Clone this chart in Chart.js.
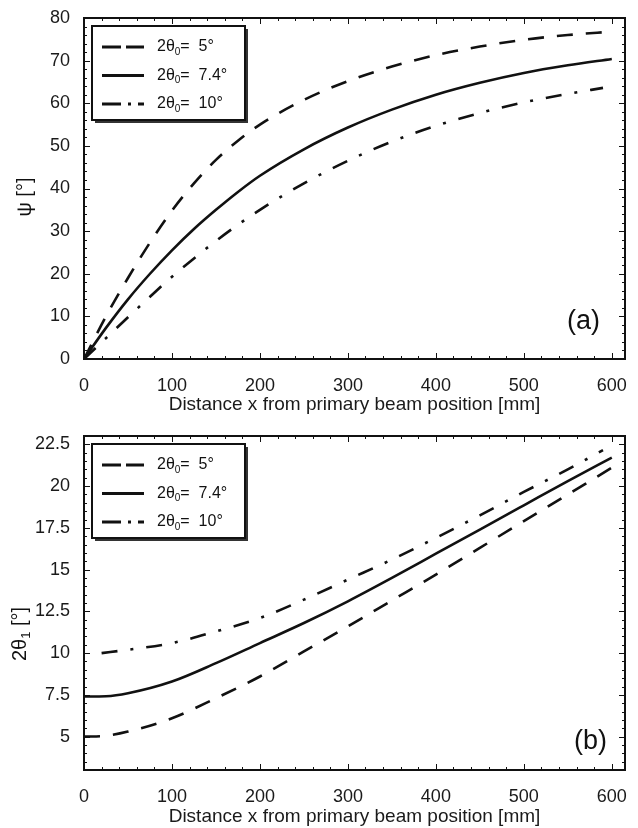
<!DOCTYPE html>
<html>
<head>
<meta charset="utf-8">
<script src="https://cdn.jsdelivr.net/npm/chart.js@4/dist/chart.umd.min.js"></script>
<style>
  body { margin: 0; background: #fff; }
  canvas { display: block; }
</style>
</head>
<body>
<canvas id="canvas1" width="638" height="416"></canvas>
<canvas id="canvas2" width="638" height="412"></canvas>
<script>
// ---- data (a): psi versus distance x
const xA = [0, 25, 50, 75, 100, 125, 150, 175, 200, 250, 300, 350, 400, 450, 500, 550, 600];
const xA10 = [0, 25, 50, 75, 100, 125, 150, 175, 200, 250, 300, 350, 400, 450, 500, 550, 590];
const psi5 = [0, 10, 19, 27.3, 34.8, 41.2, 46.7, 51.2, 55, 60.8, 65.2, 68.6, 71.3, 73.3, 74.9, 76, 76.8];
const psi74 = [0, 7.3, 14, 20, 25.5, 30.5, 35, 39.2, 43, 49.2, 54.3, 58.5, 62, 64.8, 67.1, 68.9, 70.4];
const psi10 = [0, 4.9, 9.8, 14.6, 19.3, 23.6, 27.7, 31.5, 35, 41.2, 46.5, 51, 54.7, 57.7, 60.2, 62.2, 63.6];

// ---- data (b): 2theta1 versus distance x
const xB = [0, 25, 50, 100, 150, 200, 250, 300, 350, 400, 450, 500, 550, 600];
const xB10 = [20, 50, 100, 150, 200, 250, 300, 350, 400, 450, 500, 550, 590];
const th5 = [5, 5.05, 5.3, 6.1, 7.3, 8.6, 10.1, 11.6, 13.15, 14.7, 16.3, 17.9, 19.5, 21.1];
const th74 = [7.4, 7.42, 7.6, 8.3, 9.4, 10.6, 11.8, 13.1, 14.5, 15.95, 17.4, 18.85, 20.3, 21.7];
const th10 = [10.0, 10.2, 10.6, 11.3, 12.1, 13.2, 14.4, 15.6, 16.9, 18.25, 19.65, 21.0, 22.15];

// ---- ticks and labels
const xTicks = [0, 100, 200, 300, 400, 500, 600];
const yTicksA = [0, 10, 20, 30, 40, 50, 60, 70, 80];
const yTicksB = [5, 7.5, 10, 12.5, 15, 17.5, 20, 22.5];
const legendLabels = ['2θ₀=  5°', '2θ₀=  7.4°', '2θ₀=  10°'];
const xTitle = 'Distance x from primary beam position [mm]';

const FAMILY = '"Liberation Sans", Arial, Helvetica, sans-serif';
const INK = '#111';
const DASH = [16, 13];
const DASHDOT = [16, 13, 3, 13];
const LEGEND_DASH = [[19, 5], [], [19, 7, 3, 7]];

Chart.defaults.font.family = FAMILY;
Chart.defaults.color = '#1a1a1a';

// draws text; digits written as U+2080..2089 come out as small lowered digits
function richText(ctx, text, x, y, size, align) {
    const parts = [];
    for (const ch of text) {
        const c = ch.codePointAt(0);
        const sub = c >= 0x2080 && c <= 0x2089;
        const t = sub ? String(c - 0x2080) : ch;
        const last = parts[parts.length - 1];
        if (last && last.sub === sub) last.t += t; else parts.push({ t, sub });
    }
    const fontOf = p => (p.sub ? Math.round(size * 0.65) : size) + 'px ' + FAMILY;
    let w = 0;
    parts.forEach(p => { ctx.font = fontOf(p); p.w = ctx.measureText(p.t).width; w += p.w; });
    let cx = align === 'center' ? x - w / 2 : x;
    ctx.textAlign = 'left';
    ctx.textBaseline = 'middle';
    parts.forEach(p => {
        ctx.font = fontOf(p);
        ctx.fillText(p.t, cx, p.sub ? y + size * 0.3 : y);
        cx += p.w;
    });
}

// frame with inward ticks on all sides, y title, panel letter and boxed legend
const framePlugin = {
    id: 'frame',
    afterDraw(chart, args, o) {
        const { ctx, chartArea: a, scales: { x, y } } = chart;
        ctx.save();
        ctx.strokeStyle = INK;
        ctx.fillStyle = INK;
        ctx.lineWidth = 1;
        ctx.beginPath();
        const nx = Math.floor((o.xMax - o.xMin) / o.xMinor + 1e-6);
        for (let i = 0; i <= nx; i++) {
            const v = o.xMin + i * o.xMinor;
            const px = Math.round(x.getPixelForValue(v)) + 0.5;
            const len = i % o.xEvery === 0 ? 6 : 3;
            ctx.moveTo(px, a.bottom); ctx.lineTo(px, a.bottom - len);
            ctx.moveTo(px, a.top); ctx.lineTo(px, a.top + len);
        }
        const ny = Math.round((o.yMax - o.yMin) / o.yMinor);
        for (let i = 0; i <= ny; i++) {
            const v = o.yMin + i * o.yMinor;
            if (v < y.min || v > y.max) continue;
            const py = Math.round(y.getPixelForValue(v)) + 0.5;
            const len = i % o.yEvery === 0 ? 6 : 3;
            ctx.moveTo(a.left, py); ctx.lineTo(a.left + len, py);
            ctx.moveTo(a.right, py); ctx.lineTo(a.right - len, py);
        }
        ctx.stroke();
        ctx.lineWidth = 2;
        ctx.strokeRect(a.left, a.top, a.width, a.height);

        // y title, rotated
        ctx.save();
        ctx.translate(o.yTitleX, o.yTitleY);
        ctx.rotate(-Math.PI / 2);
        richText(ctx, o.yTitle, 0, 0, 20, 'center');
        ctx.restore();

        // panel letter
        ctx.font = '27px ' + FAMILY;
        ctx.textAlign = 'right';
        ctx.textBaseline = 'middle';
        ctx.fillText(o.panel, a.right - o.panelDx, a.bottom - o.panelDy);

        // legend box with shadow
        const bx = a.left + 8, by = a.top + 8, bw = 153, bh = 94;
        ctx.fillStyle = '#333';
        ctx.fillRect(bx + 3, by + 3, bw, bh);
        ctx.fillStyle = '#fff';
        ctx.fillRect(bx, by, bw, bh);
        ctx.lineWidth = 2;
        ctx.strokeRect(bx, by, bw, bh);
        ctx.fillStyle = INK;
        chart.data.datasets.forEach((ds, i) => {
            const ry = by + 21 + i * 28.5;
            ctx.save();
            ctx.lineWidth = 3;
            ctx.setLineDash(LEGEND_DASH[i]);
            ctx.beginPath();
            ctx.moveTo(bx + 10, ry);
            ctx.lineTo(bx + 52, ry);
            ctx.stroke();
            ctx.restore();
            richText(ctx, ds.label, bx + 65, ry, 16, 'left');
        });
        ctx.restore();
    }
};

function series(label, xs, ys, dash) {
    return {
        label: label,
        data: xs.map((v, i) => ({ x: v, y: ys[i] })),
        borderColor: INK,
        borderWidth: 2.6,
        borderDash: dash,
        pointRadius: 0,
        cubicInterpolationMode: 'monotone',
        fill: false
    };
}

function makeChart(canvas, datasets, cfg) {
    return new Chart(canvas, {
        type: 'line',
        data: { datasets: datasets },
        options: {
            responsive: false,
            animation: false,
            layout: { padding: { top: cfg.padTop, right: 13, left: 0, bottom: 0 } },
            plugins: {
                legend: { display: false },
                tooltip: { enabled: false },
                frame: cfg.frame
            },
            scales: {
                x: {
                    type: 'linear',
                    min: 0,
                    max: 615,
                    afterBuildTicks: s => { s.ticks = xTicks.map(v => ({ value: v })); },
                    afterFit: s => { s.height = cfg.xHeight; },
                    grid: { display: false },
                    border: { display: false },
                    ticks: { font: { size: 18 }, padding: 8, maxRotation: 0 },
                    title: {
                        display: true,
                        text: xTitle,
                        font: { size: 19 },
                        padding: { top: 0, bottom: 0 }
                    }
                },
                y: {
                    min: cfg.yMin,
                    max: cfg.yMax,
                    afterBuildTicks: s => { s.ticks = cfg.yTicks.map(v => ({ value: v })); },
                    afterFit: s => { s.width = 84; },
                    grid: { display: false },
                    border: { display: false },
                    ticks: { font: { size: 18 }, padding: 6, callback: v => String(v) }
                }
            }
        },
        plugins: [framePlugin]
    });
}

document.addEventListener('DOMContentLoaded', function () {
    makeChart(document.getElementById('canvas1'), [
        series(legendLabels[0], xA, psi5, DASH),
        series(legendLabels[1], xA, psi74, []),
        series(legendLabels[2], xA10, psi10, DASHDOT)
    ], {
        padTop: 18, xHeight: 57, yMin: 0, yMax: 80, yTicks: yTicksA,
        frame: {
            xMin: 0, xMax: 615, xMinor: 20, xEvery: 5,
            yMin: 0, yMax: 80, yMinor: 2, yEvery: 5,
            yTitle: 'ψ [°]', yTitleX: 25, yTitleY: 197,
            panel: '(a)', panelDx: 25, panelDy: 37
        }
    });

    makeChart(document.getElementById('canvas2'), [
        series(legendLabels[0], xB, th5, DASH),
        series(legendLabels[1], xB, th74, []),
        series(legendLabels[2], xB10, th10, DASHDOT)
    ], {
        padTop: 20, xHeight: 58, yMin: 3, yMax: 23, yTicks: yTicksB,
        frame: {
            xMin: 0, xMax: 615, xMinor: 20, xEvery: 5,
            yMin: 2.5, yMax: 23, yMinor: 0.5, yEvery: 5,
            yTitle: '2θ₁ [°]', yTitleX: 20, yTitleY: 218,
            panel: '(b)', panelDx: 18, panelDy: 28
        }
    });
});
</script>
</body>
</html>
